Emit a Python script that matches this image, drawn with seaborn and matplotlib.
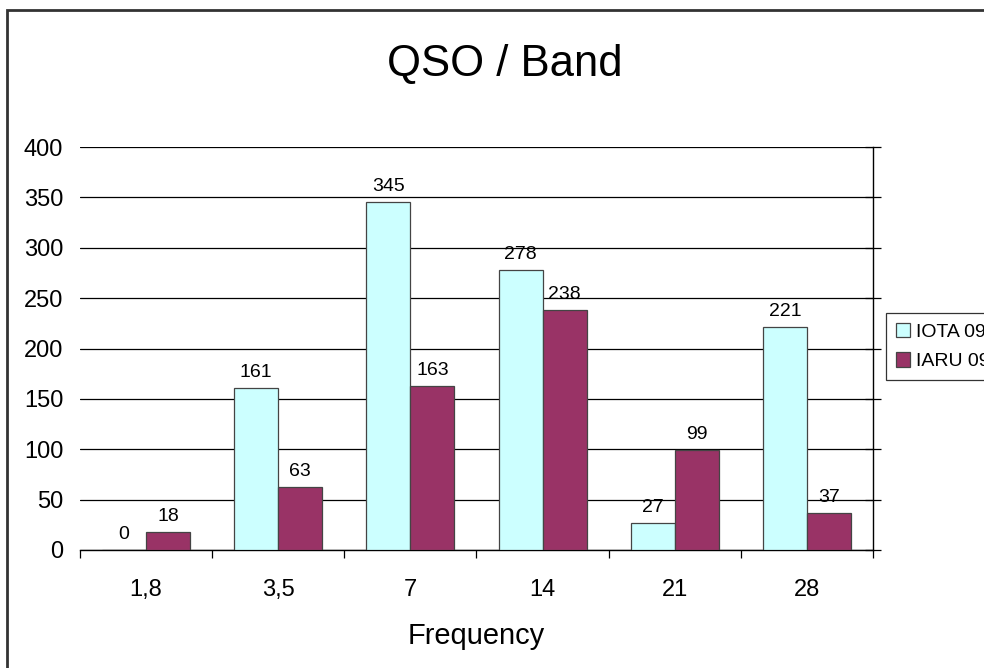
import matplotlib
matplotlib.use("Agg")
import matplotlib.pyplot as plt
import matplotlib.patches as mpatches
import seaborn as sns
import pandas as pd

categories = ["1,8", "3,5", "7", "14", "21", "28"]
series_names = ["IOTA 09", "IARU 09"]
iota_09 = [0, 161, 345, 278, 27, 221]
iaru_09 = [18, 63, 163, 238, 99, 37]
y_ticks = [0, 50, 100, 150, 200, 250, 300, 350, 400]
colors = ["#CCFFFF", "#993366"]

df = pd.DataFrame({
    "Frequency": categories * 2,
    "QSO": iota_09 + iaru_09,
    "Series": [series_names[0]] * len(categories) + [series_names[1]] * len(categories),
})

sns.set_style("white")
plt.rcParams["font.family"] = ["Liberation Sans", "DejaVu Sans"]
plt.rcParams["text.color"] = "black"
plt.rcParams["axes.labelcolor"] = "black"
plt.rcParams["xtick.color"] = "black"
plt.rcParams["ytick.color"] = "black"

W, H = 984, 668
fig = plt.figure(figsize=(W / 100, H / 100), dpi=100)
ax_left, ax_right, ax_top, ax_bottom = 80, 873, 147, 550
ax = fig.add_axes([ax_left / W, 1 - ax_bottom / H, (ax_right - ax_left) / W, (ax_bottom - ax_top) / H])

sns.barplot(data=df, x="Frequency", y="QSO", hue="Series", order=categories,
            hue_order=series_names, palette=colors, width=0.667,
            edgecolor="#444444", linewidth=0.9, saturation=1, ax=ax, zorder=3)

for cont in ax.containers:
    ax.bar_label(cont, fmt="%d", padding=5, fontsize=14, color="black")

ax.set_xlim(-0.5, len(categories) - 0.5)
ax.set_ylim(0, 400)
ax.set_yticks(y_ticks)
ax.set_yticklabels([str(v) for v in y_ticks])
ax.yaxis.grid(True, color="black", linewidth=0.9, zorder=0)
ax.set_axisbelow(True)

for side in ["top", "left"]:
    ax.spines[side].set_visible(False)
ax.spines["right"].set_visible(True)
ax.spines["right"].set_color("black")
ax.spines["right"].set_linewidth(1.0)
ax.spines["bottom"].set_color("black")
ax.spines["bottom"].set_linewidth(1.0)

ax.tick_params(axis="y", left=False, right=True, direction="inout", length=12,
               width=0.9, labelsize=17, pad=6, color="black", labelcolor="black",
               labelleft=True, labelright=False)
ax.set_xticks([i - 0.5 for i in range(len(categories) + 1)], minor=True)
ax.tick_params(axis="x", which="minor", bottom=True, direction="out", length=6, width=0.9, color="black")
ax.tick_params(axis="x", which="major", bottom=False, length=0, labelsize=17, pad=21,
               labelcolor="black")

ax.set_xlabel("Frequency", fontsize=20.9, labelpad=15, color="black")
ax.set_ylabel("")

handles = [mpatches.Patch(facecolor=c, edgecolor="#444444", linewidth=0.9) for c in colors]
leg = fig.legend(handles, series_names, loc="upper left",
                 bbox_to_anchor=(886 / W, 1 - 313 / H), bbox_transform=fig.transFigure,
                 fontsize=14, frameon=True, fancybox=False, handlelength=0.75,
                 handleheight=0.75, handletextpad=0.3, labelspacing=0.6,
                 borderpad=0.5, borderaxespad=0)
leg.get_frame().set_edgecolor("black")
leg.get_frame().set_linewidth(0.9)
for t in leg.get_texts():
    t.set_color("black")
if ax.get_legend() is not None:
    ax.get_legend().remove()

fig.text(505 / W, 1 - 65 / H, "QSO / Band", fontsize=31.4, ha="center", va="center", color="black")

border = mpatches.Rectangle((7 / W, -0.1), 2, 1 - 10 / H + 0.1, transform=fig.transFigure,
                            fill=False, edgecolor="#333333", linewidth=2)
fig.patches.append(border)

fig.savefig("out.png", dpi=100)
